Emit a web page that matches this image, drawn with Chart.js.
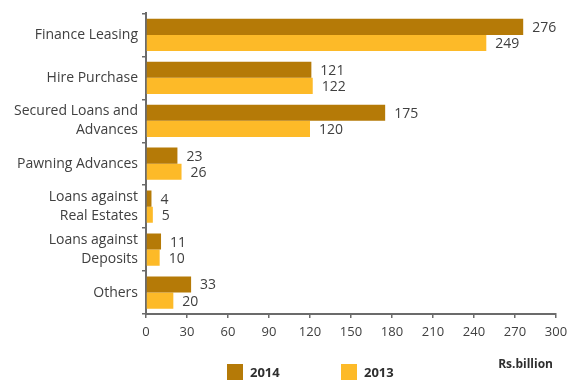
<!DOCTYPE html>
<html>
<head>
<meta charset="utf-8">
<script src="https://cdn.jsdelivr.net/npm/chart.js@4.4.1/dist/chart.umd.min.js"></script>
<style>
  html, body { margin: 0; padding: 0; background: #fff; }
  #wrap { width: 570px; height: 380px; position: relative; }
</style>
</head>
<body>
<div id="wrap"><canvas id="chart"></canvas></div>
<script>
const categories = [
  'Finance Leasing',
  'Hire Purchase',
  ['Secured Loans and', 'Advances'],
  'Pawning Advances',
  ['Loans against', 'Real Estates'],
  ['Loans against', 'Deposits'],
  'Others'
];
const values2014 = [276, 121, 175, 23, 4, 11, 33];
const values2013 = [249, 122, 120, 26, 5, 10, 20];
const xTicks = [0, 30, 60, 90, 120, 150, 180, 210, 240, 270, 300];
const unitLabel = 'Rs.billion';

const FONT = '"Open Sans", "DejaVu Sans", sans-serif';
const TEXT = '#404040';
const AXIS = '#6b6b6b';

// numbers at the end of every bar
const barValues = {
  id: 'barValues',
  afterDatasetsDraw(chart) {
    const ctx = chart.ctx;
    ctx.save();
    ctx.font = '14px ' + FONT;
    ctx.fillStyle = TEXT;
    ctx.textAlign = 'left';
    ctx.textBaseline = 'middle';
    chart.data.datasets.forEach((ds, i) => {
      chart.getDatasetMeta(i).data.forEach((bar, j) => {
        ctx.fillText(String(ds.data[j]), bar.x + 9, bar.y + 1);
      });
    });
    ctx.restore();
  }
};

// legend squares and unit note under the axis
const bottomLegend = {
  id: 'bottomLegend',
  afterDraw(chart) {
    const ctx = chart.ctx;
    const xs = [227, 341];
    ctx.save();
    ctx.font = 'bold 13px ' + FONT;
    ctx.textBaseline = 'middle';
    chart.data.datasets.forEach((ds, i) => {
      ctx.fillStyle = ds.backgroundColor;
      ctx.fillRect(xs[i], 364, 16, 16);
      ctx.fillStyle = '#2e2e2e';
      ctx.textAlign = 'left';
      ctx.fillText(ds.label, xs[i] + 23, 373);
    });
    ctx.font = 'bold 12px ' + FONT;
    ctx.textAlign = 'right';
    ctx.fillText(unitLabel, 553, 365);
    ctx.restore();
  }
};

new Chart(document.getElementById('chart'), {
  type: 'bar',
  data: {
    labels: categories,
    datasets: [
      { label: '2014', data: values2014, backgroundColor: '#b57a07' },
      { label: '2013', data: values2013, backgroundColor: '#fdba28' }
    ]
  },
  options: {
    indexAxis: 'y',
    responsive: true,
    maintainAspectRatio: false,
    animation: false,
    layout: { padding: { top: 12, right: 0, left: 0, bottom: 0 } },
    datasets: {
      bar: { categoryPercentage: 0.75, barPercentage: 1.0 }
    },
    plugins: {
      legend: { display: false },
      tooltip: { enabled: false }
    },
    scales: {
      x: {
        min: 0,
        max: 300,
        afterBuildTicks: (scale) => { scale.ticks = xTicks.map(v => ({ value: v })); },
        afterFit: (scale) => {
          scale.height = 66;
          scale.paddingLeft = 0;
          scale.paddingRight = 14;
        },
        border: { color: AXIS, width: 2 },
        grid: { drawOnChartArea: false, color: AXIS, tickLength: 4, lineWidth: 1.5 },
        ticks: { color: TEXT, padding: 6, font: { family: FONT, size: 13 } }
      },
      y: {
        afterFit: (scale) => { scale.width = 146; },
        border: { color: AXIS, width: 2 },
        grid: { drawOnChartArea: false, color: AXIS, tickLength: 4, lineWidth: 1.5, offset: true },
        ticks: { color: TEXT, padding: 4, font: { family: FONT, size: 14, lineHeight: 1.35 } }
      }
    }
  },
  plugins: [barValues, bottomLegend]
});
</script>
</body>
</html>
